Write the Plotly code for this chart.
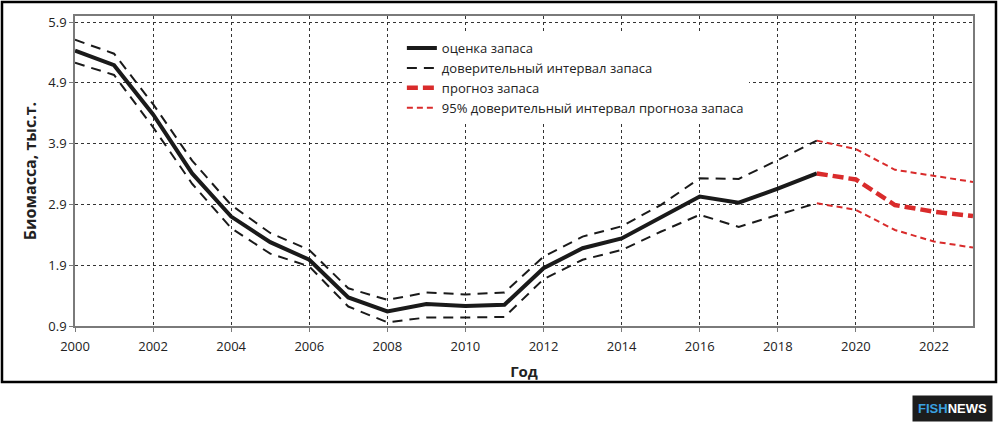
import plotly.graph_objects as go

# stock estimate 2000-2019 (thousand t)
years = list(range(2000, 2020))
biomass = [5.43, 5.19, 4.38, 3.41, 2.70, 2.28, 1.99, 1.37, 1.14, 1.26, 1.23, 1.25,
           1.85, 2.18, 2.34, 2.68, 3.03, 2.93, 3.16, 3.41]
ci_upper = [5.61, 5.38, 4.55, 3.62, 2.89, 2.43, 2.15, 1.52, 1.33, 1.45, 1.42, 1.45,
            2.04, 2.37, 2.54, 2.89, 3.33, 3.32, 3.63, 3.95]
ci_lower = [5.23, 5.03, 4.17, 3.24, 2.51, 2.09, 1.88, 1.22, 0.96, 1.04, 1.04, 1.05,
            1.67, 1.99, 2.15, 2.45, 2.73, 2.53, 2.73, 2.92]

# forecast 2019-2023
fc_years = [2019, 2020, 2021, 2022, 2023]
forecast = [3.41, 3.31, 2.89, 2.78, 2.71]
fc_upper = [3.95, 3.81, 3.47, 3.37, 3.27]
fc_lower = [2.92, 2.81, 2.48, 2.29, 2.19]

y_ticks = [0.9, 1.9, 2.9, 3.9, 4.9, 5.9]

RED = "#d92b2b"
BLACK = "#1a1a1a"
FONT = "Open Sans"

fig = go.Figure()

fig.add_trace(go.Scatter(x=years, y=biomass, mode="lines", name="оценка запаса",
                         line=dict(color=BLACK, width=4)))
fig.add_trace(go.Scatter(x=years, y=ci_upper, mode="lines", name="доверительный интервал запаса",
                         legendgroup="ci", line=dict(color=BLACK, width=2, dash="10px,7px")))
fig.add_trace(go.Scatter(x=years, y=ci_lower, mode="lines", name="доверительный интервал запаса",
                         legendgroup="ci", showlegend=False,
                         line=dict(color=BLACK, width=2, dash="10px,7px")))
fig.add_trace(go.Scatter(x=fc_years, y=forecast, mode="lines", name="прогноз запаса",
                         line=dict(color=RED, width=4.5, dash="11px,5px")))
fig.add_trace(go.Scatter(x=fc_years, y=fc_upper, mode="lines",
                         name="95% доверительный интервал прогноза запаса",
                         legendgroup="fci", line=dict(color=RED, width=2, dash="6px,4px")))
fig.add_trace(go.Scatter(x=fc_years, y=fc_lower, mode="lines",
                         name="95% доверительный интервал прогноза запаса",
                         legendgroup="fci", showlegend=False,
                         line=dict(color=RED, width=2, dash="6px,4px")))

axis_common = dict(
    showline=True, mirror=True, linecolor="#7a7a7a", linewidth=1.5,
    showgrid=True, gridcolor="#333333", gridwidth=1.3, griddash="dot",
    ticks="outside", ticklen=4, tickcolor="#7a7a7a",
    zeroline=False, tickfont=dict(family=FONT, size=13, color="#222222"),
)

fig.update_xaxes(range=[2000, 2023], tick0=2000, dtick=2, ticklabelstandoff=4,
                 title=dict(text="<b>Год</b>", font=dict(family=FONT, size=15, color="#222222"),
                            standoff=12),
                 **axis_common)
fig.update_yaxes(range=[0.9, 6.0], tickvals=y_ticks, ticktext=[f"{v:.1f}" for v in y_ticks],
                 title=dict(text="<b>Биомасса, тыс.т.</b>",
                            font=dict(family=FONT, size=16, color="#222222"), standoff=8),
                 **axis_common)

fig.update_layout(
    width=1000, height=427,
    margin=dict(l=75, r=27, t=16, b=101),
    paper_bgcolor="white", plot_bgcolor="white",
    font=dict(family=FONT, color="#222222"),
    legend=dict(x=0.364, y=0.945, xanchor="left", yanchor="top",
                bgcolor="white", font=dict(family=FONT, size=13, color="#222222"),
                tracegroupgap=0, itemwidth=30),
    shapes=[dict(type="rect", xref="paper", yref="paper",
                 x0=-0.0813, x1=1.0256, y0=-0.1806, y1=1.045,
                 line=dict(color="black", width=2.5), layer="below")],
    annotations=[dict(xref="paper", yref="paper", x=0.977, y=-0.265,
                      xanchor="center", yanchor="middle",
                      text="<b><span style='color:#3aa0e0'>FISH</span>NEWS</b>",
                      showarrow=False, bgcolor="#1c1c1c", borderpad=5,
                      font=dict(family="Liberation Sans Narrow, Liberation Sans", size=13,
                                color="white"))],
)

fig.write_html("out.html", config={"displayModeBar": False},
               post_script="document.body.style.margin='0';")
